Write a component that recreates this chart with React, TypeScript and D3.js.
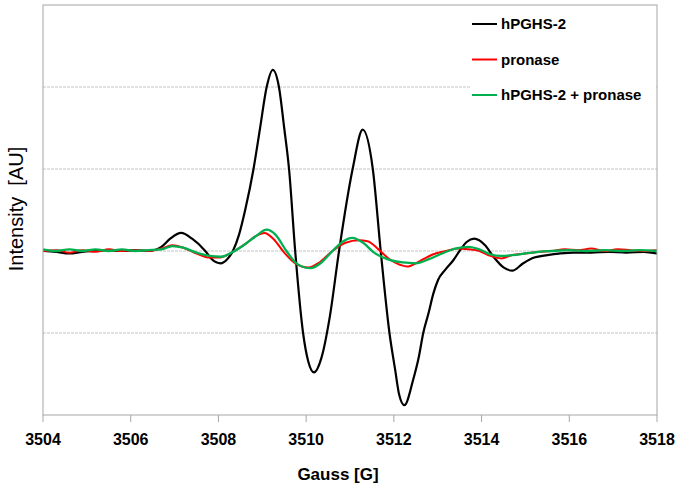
import React, { useEffect, useRef } from "react";
import * as d3 from "d3";

// field positions in Gauss, intensity (1 unit = one grid step)
const blackG = [3504.0, 3504.3, 3504.6, 3504.9, 3505.2, 3505.5, 3505.8, 3506.1, 3506.4, 3506.7, 3506.9, 3507.15, 3507.4, 3507.7, 3507.85, 3508.05, 3508.2, 3508.33, 3508.47, 3508.61, 3508.8, 3508.95, 3509.1, 3509.24, 3509.38, 3509.5, 3509.61, 3509.75, 3509.93, 3510.05, 3510.18, 3510.35, 3510.54, 3510.75, 3511.06, 3511.29, 3511.52, 3511.7, 3511.9, 3512.03, 3512.12, 3512.24, 3512.44, 3512.57, 3512.67, 3512.79, 3512.9, 3513.01, 3513.17, 3513.36, 3513.51, 3513.66, 3513.83, 3514.08, 3514.27, 3514.5, 3514.7, 3514.95, 3515.2, 3515.5, 3515.8, 3516.1, 3516.5, 3516.9, 3517.3, 3517.7, 3518.0];
const blackV = [0.0, -0.01, -0.03, -0.01, 0.0, 0.01, 0.0, 0.01, 0.0, 0.05, 0.15, 0.22, 0.15, 0.0, -0.1, -0.15, -0.1, 0.0, 0.2, 0.5, 1.0, 1.5, 2.0, 2.21, 2.0, 1.5, 1.0, 0.0, -1.0, -1.35, -1.48, -1.3, -0.8, 0.0, 1.0, 1.48, 1.0, 0.0, -1.0, -1.45, -1.75, -1.88, -1.57, -1.29, -1.0, -0.76, -0.52, -0.35, -0.23, -0.11, 0.01, 0.11, 0.15, 0.07, -0.07, -0.2, -0.24, -0.15, -0.08, -0.05, -0.03, -0.02, -0.02, -0.01, -0.02, -0.01, -0.03];

const redG = [3504.0, 3504.3, 3504.6, 3504.9, 3505.2, 3505.5, 3505.8, 3506.1, 3506.4, 3506.7, 3506.95, 3507.2, 3507.5, 3507.8, 3508.0, 3508.3, 3508.6, 3508.85, 3509.05, 3509.25, 3509.5, 3509.75, 3510.05, 3510.3, 3510.6, 3510.9, 3511.2, 3511.4, 3511.65, 3511.9, 3512.15, 3512.3, 3512.6, 3512.9, 3513.2, 3513.45, 3513.7, 3513.95, 3514.2, 3514.45, 3514.7, 3515.0, 3515.3, 3515.6, 3515.9, 3516.2, 3516.5, 3516.8, 3517.1, 3517.4, 3517.7, 3518.0];
const redV = [0.0, 0.01, -0.02, 0.01, -0.01, 0.02, 0.0, 0.01, 0.0, 0.03, 0.07, 0.04, -0.03, -0.08, -0.08, -0.02, 0.08, 0.18, 0.22, 0.15, -0.02, -0.15, -0.2, -0.14, 0.0, 0.1, 0.13, 0.12, 0.02, -0.1, -0.17, -0.19, -0.12, -0.04, 0.0, 0.03, 0.02, 0.0, -0.06, -0.09, -0.05, -0.03, -0.01, 0.0, 0.02, 0.01, 0.03, 0.0, 0.02, 0.01, 0.0, 0.01];

const greenG = [3504.0, 3504.3, 3504.6, 3504.9, 3505.2, 3505.5, 3505.8, 3506.1, 3506.4, 3506.7, 3506.95, 3507.2, 3507.5, 3507.8, 3508.05, 3508.3, 3508.55, 3508.85, 3509.1, 3509.3, 3509.55, 3509.8, 3510.1, 3510.35, 3510.6, 3510.85, 3511.05, 3511.3, 3511.55, 3511.85, 3512.2, 3512.5, 3512.8, 3513.1, 3513.4, 3513.7, 3513.95, 3514.2, 3514.45, 3514.7, 3515.0, 3515.3, 3515.6, 3516.0, 3516.4, 3516.8, 3517.2, 3517.6, 3518.0];
const greenV = [0.02, 0.0, 0.02, 0.0, 0.02, 0.0, 0.02, 0.0, 0.01, 0.02, 0.06, 0.04, -0.02, -0.06, -0.07, -0.02, 0.06, 0.18, 0.26, 0.2, 0.0, -0.16, -0.21, -0.14, 0.0, 0.12, 0.16, 0.1, -0.02, -0.1, -0.14, -0.15, -0.1, -0.03, 0.03, 0.05, 0.02, -0.04, -0.06, -0.05, -0.03, -0.01, 0.0, 0.01, 0.0, 0.01, 0.0, 0.01, 0.0];

const seriesNames = ["hPGHS-2", "pronase", "hPGHS-2 + pronase"];
const seriesColors = ["#000000", "#ff0000", "#00b050"];
const xTicks = [3504, 3506, 3508, 3510, 3512, 3514, 3516, 3518];
const yGrid = [-1, 0, 1, 2];

const font = "'Liberation Sans', Arial, sans-serif";

const App = () => {
  const svgRef = useRef(null);

  useEffect(() => {
    const width = 681,
      height = 488;
    const left = 43,
      right = 657,
      top = 5,
      bottom = 415;

    const svg = d3.select(svgRef.current);
    svg.selectAll("*").remove();

    const x = d3.scaleLinear().domain([3504, 3518]).range([left, right]);
    const y = d3.scaleLinear().domain([-2, 3]).range([bottom, top]);

    // grid
    svg
      .append("g")
      .selectAll("line")
      .data(yGrid)
      .join("line")
      .attr("x1", left)
      .attr("x2", right)
      .attr("y1", (d) => y(d))
      .attr("y2", (d) => y(d))
      .attr("stroke", "#c4c4c4")
      .attr("stroke-width", 1)
      .attr("stroke-dasharray", "3,1");

    // series
    const series = [
      { g: blackG, v: blackV, w: 2.2 },
      { g: redG, v: redV, w: 2 },
      { g: greenG, v: greenV, w: 2.3 },
    ];
    const line = d3
      .line<[number, number]>()
      .x((d) => x(d[0]))
      .y((d) => y(d[1]))
      .curve(d3.curveMonotoneX);

    series.forEach((s, i) => {
      const pts = s.g.map((g, j) => [g, s.v[j]] as [number, number]);
      svg
        .append("path")
        .attr("d", line(pts))
        .attr("fill", "none")
        .attr("stroke", seriesColors[i])
        .attr("stroke-width", s.w)
        .attr("stroke-linejoin", "round");
    });

    // legend
    const lg = svg.append("g");
    lg.append("rect")
      .attr("x", 470)
      .attr("y", top + 1)
      .attr("width", right - 471)
      .attr("height", 104)
      .attr("fill", "white");
    seriesNames.forEach((name, i) => {
      const ly = 24 + i * 35.5;
      lg.append("line")
        .attr("x1", 472)
        .attr("x2", 497)
        .attr("y1", ly)
        .attr("y2", ly)
        .attr("stroke", seriesColors[i])
        .attr("stroke-width", 2);
      lg.append("text")
        .attr("x", 501)
        .attr("y", ly + 5)
        .attr("font-family", font)
        .attr("font-weight", "bold")
        .attr("font-size", 15)
        .text(name);
    });

    // frame
    svg
      .append("rect")
      .attr("x", left)
      .attr("y", top)
      .attr("width", right - left)
      .attr("height", bottom - top)
      .attr("fill", "none")
      .attr("stroke", "#a6a6a6")
      .attr("stroke-width", 1);

    // x axis ticks
    const xa = svg.append("g");
    xa.selectAll("line")
      .data(xTicks)
      .join("line")
      .attr("x1", (d) => x(d))
      .attr("x2", (d) => x(d))
      .attr("y1", bottom)
      .attr("y2", bottom + 7)
      .attr("stroke", "#a6a6a6");
    xa.selectAll("text")
      .data(xTicks)
      .join("text")
      .attr("x", (d) => x(d))
      .attr("y", 445)
      .attr("text-anchor", "middle")
      .attr("font-family", font)
      .attr("font-weight", "bold")
      .attr("font-size", 16)
      .text((d) => d);

    svg
      .append("text")
      .attr("x", 338)
      .attr("y", 480)
      .attr("text-anchor", "middle")
      .attr("font-family", font)
      .attr("font-weight", "bold")
      .attr("font-size", 17)
      .text("Gauss [G]");

    svg
      .append("text")
      .attr("transform", `translate(23, 209) rotate(-90)`)
      .attr("text-anchor", "middle")
      .attr("font-family", font)
      .attr("font-size", 20)
      .style("white-space", "pre")
      .text("Intensity  [AU]");

    svg.attr("width", width).attr("height", height);
  }, []);

  return (
    <svg
      ref={svgRef}
      width={681}
      height={488}
      style={{ position: "absolute", left: 0, top: 0, background: "white" }}
    />
  );
};

export default App;
